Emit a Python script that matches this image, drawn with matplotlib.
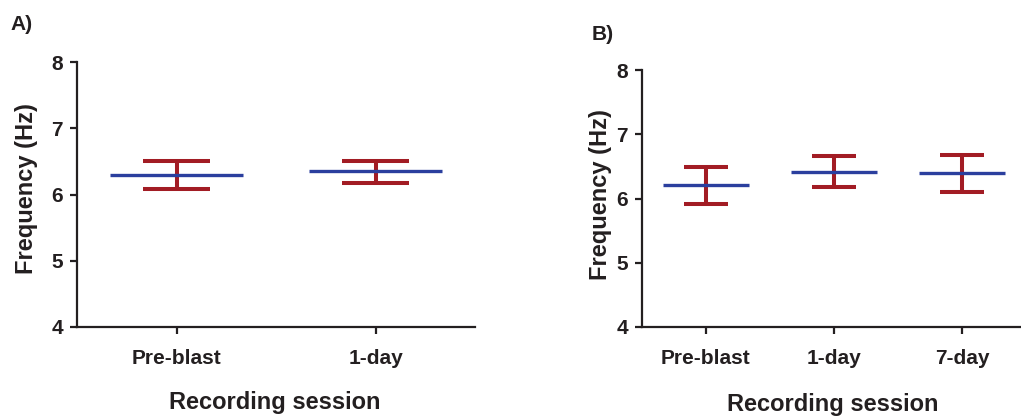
import matplotlib
matplotlib.use('Agg')
import matplotlib.pyplot as plt

plt.rcParams['font.family'] = ['Liberation Sans', 'DejaVu Sans']
plt.rcParams['font.weight'] = 'bold'

# 데이터
sessions_a = ['Pre-blast', '1-day']
mean_a = [6.29, 6.35]
upper_a = [6.51, 6.51]
lower_a = [6.08, 6.18]

sessions_b = ['Pre-blast', '1-day', '7-day']
mean_b = [6.21, 6.42, 6.39]
upper_b = [6.49, 6.66, 6.67]
lower_b = [5.92, 6.18, 6.10]

RED = '#A21C24'
BLUE = '#2B3F9E'
DARK = '#231F20'
W, H = 1021, 418

fig = plt.figure(figsize=(W / 100, H / 100), dpi=100)


def draw_panel(ax, sessions, mean, upper, lower):
    x = list(range(len(sessions)))
    # 에러바: 세로줄 + 위/아래 캡
    ax.vlines(x, lower, upper, color=RED, lw=2.9)
    ax.hlines(upper, [i - 0.17 for i in x], [i + 0.17 for i in x], color=RED, lw=2.9)
    ax.hlines(lower, [i - 0.17 for i in x], [i + 0.17 for i in x], color=RED, lw=2.9)
    # 평균선
    ax.hlines(mean, [i - 0.335 for i in x], [i + 0.335 for i in x], color=BLUE, lw=2.4, zorder=3)
    ax.set_xlim(-0.5, len(sessions) - 0.5)
    ax.set_ylim(4, 8)
    ax.set_yticks([4, 5, 6, 7, 8])
    ax.set_xticks(x)
    ax.set_xticklabels(sessions)
    for s in ['top', 'right']:
        ax.spines[s].set_visible(False)
    for s in ['left', 'bottom']:
        ax.spines[s].set_linewidth(1.6)
        ax.spines[s].set_color(DARK)
    ax.tick_params(axis='both', width=1.6, length=5, color=DARK, labelsize=15, labelcolor=DARK)
    ax.tick_params(axis='y', pad=5)
    ax.tick_params(axis='x', pad=11)
    for lab in ax.get_xticklabels() + ax.get_yticklabels():
        lab.set_fontweight('bold')


# 패널 A
ax_a = fig.add_axes([77 / W, 1 - 327 / H, 398 / W, 265 / H])
draw_panel(ax_a, sessions_a, mean_a, upper_a, lower_a)

# 패널 B
ax_b = fig.add_axes([641.7 / W, 1 - 327 / H, 384.3 / W, 257 / H])
draw_panel(ax_b, sessions_b, mean_b, upper_b, lower_b)

# 텍스트
fig.text(10 / W, 1 - 25 / H, 'A)', fontsize=15, fontweight='bold', color=DARK, va='center', ha='left')
fig.text(592 / W, 1 - 35 / H, 'B)', fontsize=15, fontweight='bold', color=DARK, va='center', ha='left')
fig.text(27 / W, 1 - 189 / H, 'Frequency (Hz)', fontsize=17, fontweight='bold', color=DARK,
         rotation=90, va='center', ha='center')
fig.text(601 / W, 1 - 195 / H, 'Frequency (Hz)', fontsize=17, fontweight='bold', color=DARK,
         rotation=90, va='center', ha='center')
fig.text(275 / W, 1 - 403 / H, 'Recording session', fontsize=17, fontweight='bold', color=DARK,
         va='center', ha='center')
fig.text(833 / W, 1 - 405 / H, 'Recording session', fontsize=17, fontweight='bold', color=DARK,
         va='center', ha='center')

fig.savefig('out.png', dpi=100)
